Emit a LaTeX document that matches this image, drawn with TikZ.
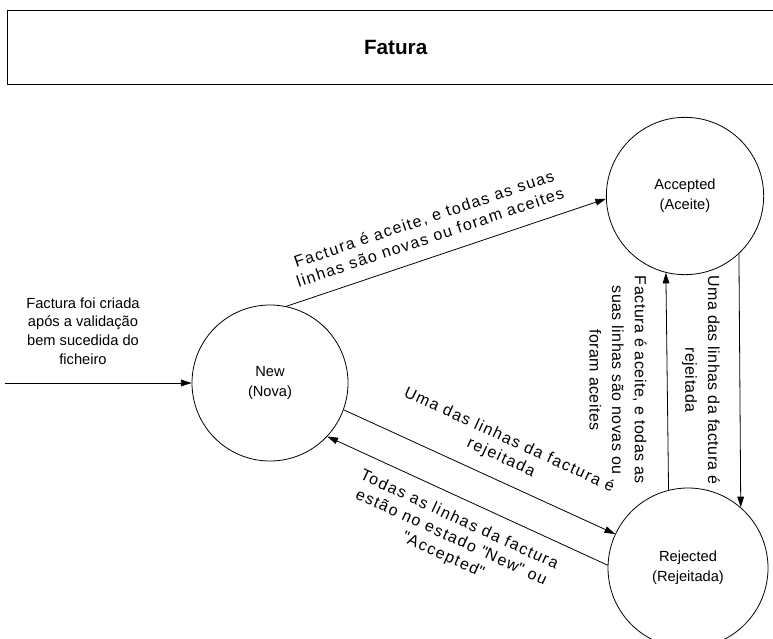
\documentclass[tikz,border=0pt]{standalone}
\usepackage{fontspec}
\setmainfont{Liberation Sans}
\usetikzlibrary{arrows.meta}
\begin{document}
\begin{tikzpicture}[x=0.75pt, y=-0.75pt,
  state/.style={circle, draw, line width=0.6pt, inner sep=0pt, align=center,
    font=\fontsize{11}{15}\selectfont},
  lbl/.style={align=center, inner sep=0pt, font=\fontsize{11}{14}\selectfont},
  dlbl/.style={align=center, inner sep=0pt, font=\fontsize{12}{14.5}\selectfont\addfontfeature{LetterSpace=9}},
  vlbl/.style={align=center, inner sep=0pt, rotate=-90, font=\fontsize{12}{17}\selectfont\addfontfeature{LetterSpace=3}},
  arr/.style={line width=0.6pt, -{Triangle[length=8pt,width=5pt]}}]
\useasboundingbox (0,0) rectangle (773,638);
\node (title) [draw, line width=1pt, minimum width=582pt, minimum height=55.5pt,
  anchor=north west, font=\fontsize{15.5}{18}\bfseries] at (7,10) {Fatura};
\node (new) [state, minimum size=117pt] at (270,383) {New\\(Nova)};
\node (acc) [state, minimum size=118pt] at (685,196) {Accepted\\(Aceite)};
\node (rej) [state, minimum size=120pt] at (688,568) {Rejected\\(Rejeitada)};
\coordinate (start) at (5,383);
\node (initlbl) [lbl] at (83,331) {Factura foi criada\\após a validação\\bem sucedida do\\ficheiro};
\draw[arr] (start) -- (new.west);
\draw[arr] (new.78) -- (acc.182);
\node (l1) [dlbl, rotate=18.6] at (427,228) {Factura é aceite, e todas as suas\\linhas são novas ou foram aceites};
\draw[arr] (new.-20) -- (rej.155);
\node (l2) [dlbl, rotate=-24.7] at (505,449) {Uma das linhas da factura é\\rejeitada};
\draw[arr] (rej.178) -- (new.-43);
\node (l3) [dlbl, rotate=-24.8] at (451,538) {Todas as linhas da factura\\estão no estado \textquotedbl New\textquotedbl{} ou\\\textquotedbl Accepted\textquotedbl};
\draw[arr] (acc.-47.5) -- (rej.49.5);
\node (l4) [vlbl] at (701,380) {Uma das linhas da factura é\\rejeitada};
\draw[arr] (rej.104.5) -- (acc.-104.8);
\node (l5) [vlbl] at (618,380) {Factura é aceite, e todas as\\suas linhas são novas ou\\foram aceites};
\end{tikzpicture}
\end{document}
